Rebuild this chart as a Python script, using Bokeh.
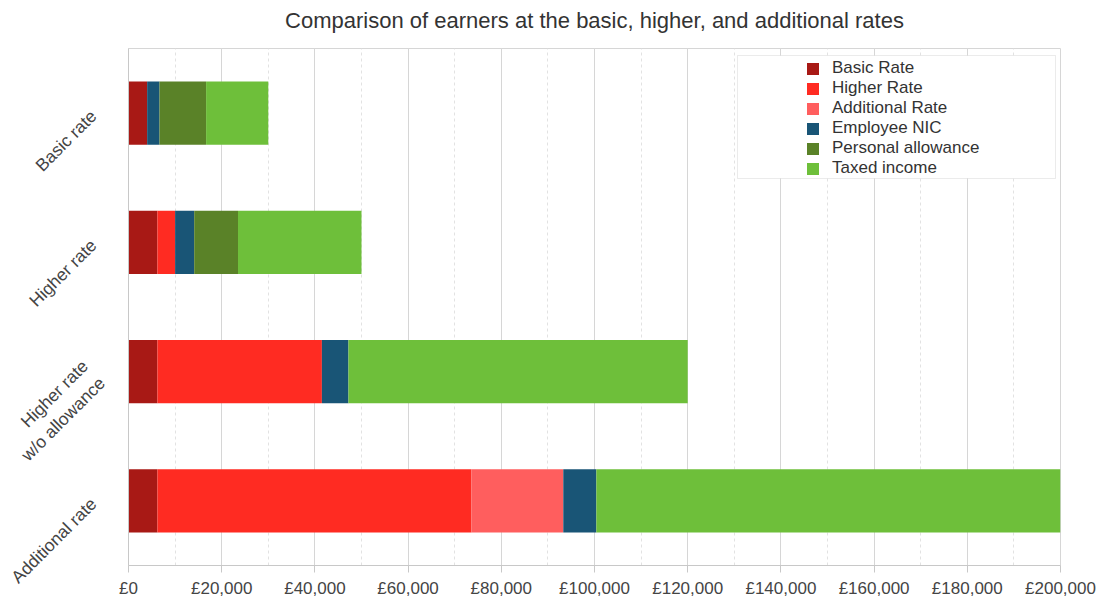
import math
from bokeh.plotting import figure
from bokeh.models import (FactorRange, Range1d, Legend, LegendItem, SingleIntervalTicker,
                          BoxAnnotation, ColumnDataSource)
from bokeh.embed import file_html
from bokeh.resources import INLINE

# ---- data ----
categories = ["Basic rate", "Higher rate", "Higher rate\nw/o allowance", "Additional rate"]
basic_rate = [4000, 6200, 6200, 6200]
higher_rate = [0, 3800, 35300, 67400]
additional_rate = [0, 0, 0, 19700]
employee_nic = [2650, 4100, 5700, 7100]
personal_allowance = [10000, 9400, 0, 0]
taxed_income = [13350, 26500, 72800, 99600]
series_names = ["Basic Rate", "Higher Rate", "Additional Rate", "Employee NIC",
                "Personal allowance", "Taxed income"]
colors = ["#a81915", "#ff2b22", "#ff5e5e", "#195576", "#5a8228", "#6ebf3a"]
x_ticks = list(range(0, 200001, 20000))

keys = ["basic", "higher", "additional", "nic", "allowance", "taxed"]
source = ColumnDataSource(data=dict(
    cat=categories, basic=basic_rate, higher=higher_rate, additional=additional_rate,
    nic=employee_nic, allowance=personal_allowance, taxed=taxed_income))

FONT = "Liberation Sans"
TXT = "#444444"

MT, ML = -11, -19   # trim unused space at the top / left of the canvas

p = figure(y_range=FactorRange(factors=list(reversed(categories))),
           x_range=Range1d(x_ticks[0], x_ticks[-1]),
           frame_width=932, frame_height=517,
           min_border_left=128, min_border_right=40, min_border_top=59, min_border_bottom=30,
           output_backend="svg", toolbar_location=None,
           title="Comparison of earners at the basic, higher, and additional rates")
p.margin = (MT, 0, 0, ML)

p.title.align = "center"
p.title.text_font = FONT
p.title.text_font_size = "22px"
p.title.text_font_style = "normal"
p.title.text_color = "#333333"
p.title.standoff = 32

renderers = p.hbar_stack(keys, y="cat", height=0.49, color=colors, source=source,
                         line_color=None)

# grid
p.ygrid.visible = False
p.xgrid.grid_line_color = "#d6d6d6"
p.xgrid.minor_grid_line_color = "#e2e2e2"
p.xgrid.minor_grid_line_dash = "3 3"
p.outline_line_color = "#d6d6d6"

# x axis
xa = p.xaxis[0]
xa.ticker = SingleIntervalTicker(interval=20000, num_minor_ticks=2)
xa.major_label_overrides = {t: "£{:,}".format(t) for t in x_ticks}
xa.axis_line_color = "#c8c8c8"
xa.major_tick_line_color = "#c8c8c8"
xa.major_tick_out = 7
xa.major_tick_in = 0
xa.minor_tick_out = 0
xa.minor_tick_in = 0
xa.major_label_text_font = FONT
xa.major_label_text_font_size = "17px"
xa.major_label_text_color = TXT
xa.major_label_standoff = 6

# y axis
ya = p.yaxis[0]
ya.axis_line_color = "#c8c8c8"
ya.major_tick_line_color = None
ya.major_tick_out = 0
ya.major_tick_in = 0
ya.minor_tick_line_color = None
ya.major_label_orientation = math.pi / 4
ya.major_label_text_font = FONT
ya.major_label_text_font_size = "17.5px"
ya.major_label_text_color = TXT
ya.major_label_standoff = 35

# legend frame (canvas pixels)
box = BoxAnnotation(left=737 - ML, right=1055 - ML, top=55 - MT, bottom=178 - MT,
                    left_units="canvas", right_units="canvas",
                    top_units="canvas", bottom_units="canvas",
                    fill_color="white", fill_alpha=1.0,
                    line_color="#bdbdbd", line_width=1)
p.add_layout(box)

legend = Legend(items=[LegendItem(label=n, renderers=[r]) for n, r in zip(series_names, renderers)],
                location=(674, 384), padding=3, spacing=0, margin=0,
                glyph_width=15, glyph_height=15, label_height=20, label_standoff=12,
                border_line_alpha=0, background_fill_alpha=0,
                label_text_font=FONT, label_text_font_size="17px", label_text_color="#333333")
p.add_layout(legend)

open("out.html", "w").write(file_html(p, INLINE))
